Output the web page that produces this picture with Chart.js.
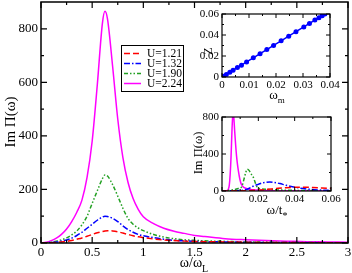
<!DOCTYPE html>
<html><head><meta charset="utf-8">
<script src="https://cdn.jsdelivr.net/npm/chart.js@4"></script>
<style>
html,body{margin:0;padding:0;background:#fff;}
#wrap{position:relative;width:352px;height:273px;overflow:hidden;background:#fff;}
canvas{position:absolute;}
</style></head><body>
<div id="wrap">
<canvas id="main" style="left:0;top:0;width:352px;height:273px" width="352" height="273"></canvas>
<canvas id="ins1" style="left:190px;top:0;width:160px;height:106px" width="160" height="106"></canvas>
<canvas id="ins2" style="left:185px;top:108px;width:165px;height:112px" width="165" height="112"></canvas>
</div>
<script>
// ---------- DATA ----------
const omega = [0,0.05,0.1,0.15,0.2,0.25,0.3,0.35,0.4,0.45,0.5,0.55,0.6,0.625,0.65,0.7,0.75,0.8,0.85,0.9,0.95,1.0,1.1,1.2,1.3,1.4,1.5,1.6,1.8,2.0,2.2,2.4,2.6,2.8,3.0];
const imU121 = [0,0.5,1,2,4,6,9,14,19,25,32,38,43,45,46,45,42,37,32,27,23,20,15,11,9,7,6,5,4,3,2,2,1,1,1];
const imU132 = [0,1,2,4,7,11,18,28,40,55,70,85,97,100,99,92,80,64,50,40,32,27,20,14,10,8,6,5,4,3,2,2,1,1,1];
const imU190 = [0,1,3,7,12,19,30,45,68,100,148,195,240,254,250,218,175,130,92,70,56,46,32,22,16,12,10,8,6,4,3,2,2,1,1];
const imU224 = [0,3,9,18,32,52,80,115,160,245,380,590,820,865,836,659,463,320,227,166,126,98,72,55,44,36,28,24,16,12,9,7,5,4,3];
const seriesLabels = ["U=1.21","U=1.32","U=1.90","U=2.24"];

// inset: Z vs omega_m
const omegaM = [0.0004,0.0016,0.0029,0.0041,0.0057,0.0072,0.0091,0.0116,0.0141,0.0166,0.0191,0.0219,0.0247,0.0274,0.0303,0.0324,0.0344,0.0359,0.0371,0.0381];
const zVals  = [0.0006,0.0025,0.0046,0.0065,0.009,0.0113,0.0143,0.0183,0.0222,0.0261,0.0301,0.0345,0.0389,0.0432,0.0477,0.051,0.0542,0.0565,0.0584,0.06];

// inset: Im Pi vs omega/t*
const insRedX = [0,0.01,0.015,0.02,0.025,0.03,0.035,0.04,0.045,0.05,0.055,0.06];
const insRedY = [0,2,5,10,18,27,35,40,41,38,33,28];
const insBlueX = [0,0.005,0.01,0.0116,0.0145,0.0171,0.02,0.0227,0.0264,0.029,0.0319,0.0345,0.0374,0.0448,0.054,0.06];
const insBlueY = [0,2,6,8,25,51,72,90,97,92,80,66,51,26,10,6];
const insGreenX = [0,0.003,0.0055,0.008,0.0095,0.0108,0.012,0.013,0.0139,0.015,0.016,0.0172,0.0185,0.0194,0.021,0.025,0.03,0.04,0.05,0.06];
const insGreenY = [0,5,12,22,32,45,120,195,235,220,185,150,80,40,25,18,12,7,4,3];
const insMagX = [0,0.002,0.003,0.0035,0.004,0.0045,0.005,0.0055,0.006,0.0062,0.0065,0.007,0.0075,0.008,0.0085,0.009,0.0098,0.0107,0.012,0.015,0.02,0.025,0.035,0.06];
const insMagY = [0,3,8,20,60,180,380,660,850,865,800,640,500,380,290,220,130,70,40,20,10,6,3,1];

// ticks
const mainXTicks = [0,0.5,1,1.5,2,2.5,3];
const mainXMinor = [0.25,0.75,1.25,1.75,2.25,2.75];
const mainYTicks = [0,200,400,600,800];
const mainYMinor = [100,300,500,700];
const in1XTicks = [0,0.01,0.02,0.03,0.04];
const in1XMinor = [0.005,0.015,0.025,0.035];
const in1YTicks = [0,0.02,0.04,0.06];
const in1YMinor = [0.01,0.03,0.05];
const in2XTicks = [0,0.02,0.04,0.06];
const in2XMinor = [0.01,0.03,0.05];
const in2YTicks = [0,400,800];
const in2YMinor = [200,600];

// ---------- STYLE ----------
const FF = "'Liberation Serif','Times New Roman',serif";
Chart.defaults.font.family = FF;
Chart.defaults.color = '#000';
Chart.defaults.animation = false;
Chart.defaults.responsive = false;
Chart.defaults.devicePixelRatio = 1;
Chart.defaults.plugins.legend.display = false;
Chart.defaults.plugins.tooltip.enabled = false;

const colors = ['#ff0000','#0000ff','#22a022','#ff00ff'];
const dashes = [[6,3],[6,2,1.5,2],[4,2,1.5,2,1.5,2],[]];

function pts(xs, ys){ return xs.map((x,i)=>({x:x,y:ys[i]})); }

function mkScale(axis, min, max, tickVals, size, fontSize){
  return {
    type:'linear', min:min, max:max,
    grid:{display:false, drawTicks:false}, border:{display:false},
    ticks:{font:{size:fontSize}, color:'#000', padding: axis==='x'?2:3, maxRotation:0, autoSkip:false,
           callback:(v)=>String(v)},
    afterBuildTicks(s){ s.ticks = tickVals.map(v=>({value:v})); },
    afterFit(s){ if(axis==='x'){ s.height=size; } else { s.width=size; } s.paddingLeft=0; s.paddingRight=0; s.paddingTop=0; s.paddingBottom=0; }
  };
}

function subText(ctx, cx, cy, main, sub, size, subSize, rot){
  ctx.save(); ctx.translate(cx,cy); if(rot) ctx.rotate(-Math.PI/2);
  ctx.font = size+'px '+FF; const w1 = ctx.measureText(main).width;
  ctx.font = subSize+'px '+FF; const w2 = sub ? ctx.measureText(sub).width : 0;
  const x0 = -(w1+w2)/2;
  ctx.textBaseline='alphabetic'; ctx.textAlign='left'; ctx.fillStyle='#000';
  ctx.font = size+'px '+FF; ctx.fillText(main, x0, 0);
  if(sub){ ctx.font = subSize+'px '+FF; ctx.fillText(sub, x0+w1, subSize*0.45); }
  ctx.restore();
}

function frame(o){
  return {
    id:'frame',
    beforeDatasetsDraw(c){
      const a=c.chartArea, ctx=c.ctx;
      ctx.save(); ctx.fillStyle='#fff'; ctx.fillRect(a.left,a.top,a.right-a.left,a.bottom-a.top); ctx.restore();
    },
    afterDatasetsDraw(c){
      const ctx=c.ctx, a=c.chartArea, xs=c.scales.x, ys=c.scales.y;
      ctx.save(); ctx.strokeStyle='#000'; ctx.lineWidth=o.lw; ctx.setLineDash([]);
      ctx.strokeRect(a.left,a.top,a.right-a.left,a.bottom-a.top);
      ctx.lineWidth=o.tw;
      ctx.beginPath();
      const tx=(vals,len)=>vals.forEach(v=>{const p=xs.getPixelForValue(v); ctx.moveTo(p,a.bottom); ctx.lineTo(p,a.bottom-len); ctx.moveTo(p,a.top); ctx.lineTo(p,a.top+len);});
      const ty=(vals,len)=>vals.forEach(v=>{const p=ys.getPixelForValue(v); ctx.moveTo(a.left,p); ctx.lineTo(a.left+len,p); ctx.moveTo(a.right,p); ctx.lineTo(a.right-len,p);});
      tx(o.xMaj,o.maj); tx(o.xMin,o.min); ty(o.yMaj,o.maj); ty(o.yMin,o.min);
      ctx.stroke();
      ctx.restore();
      if(o.after){ ctx.save(); o.after(c, ctx); ctx.restore(); }
    }
  };
}

function lineDs(label, data, i, w){
  return {label:label, data:data, borderColor:colors[i], borderDash:dashes[i], borderWidth:w,
          pointRadius:0, fill:false, cubicInterpolationMode:'monotone'};
}

// ---------- MAIN ----------
new Chart(document.getElementById('main'), {
  type:'line',
  data:{datasets:[
    lineDs(seriesLabels[0], pts(omega, imU121), 0, 1.5),
    lineDs(seriesLabels[1], pts(omega, imU132), 1, 1.5),
    lineDs(seriesLabels[2], pts(omega, imU190), 2, 1.5),
    lineDs(seriesLabels[3], pts(omega, imU224), 3, 1.5)
  ]},
  options:{
    layout:{padding:{left:0,right:4,top:2,bottom:0}},
    scales:{
      x: mkScale('x',0,3,mainXTicks,30,13),
      y: mkScale('y',0,900,mainYTicks,41,13)
    }
  },
  plugins:[frame({lw:1.5,tw:1.2,maj:6,min:3,xMaj:mainXTicks,xMin:mainXMinor,yMaj:mainYTicks,yMin:mainYMinor,
    after(c, ctx){
      // legend
      ctx.strokeStyle='#000'; ctx.lineWidth=1; ctx.setLineDash([]);
      ctx.strokeRect(121.5,45.5,62,46);
      c.data.datasets.forEach((d,i)=>{
        const yy=53.5+i*10;
        ctx.strokeStyle=d.borderColor; ctx.lineWidth=1.5; ctx.setLineDash(d.borderDash);
        ctx.beginPath(); ctx.moveTo(124,yy); ctx.lineTo(141,yy); ctx.stroke();
        ctx.setLineDash([]);
        ctx.fillStyle='#000'; ctx.font='11.5px '+FF; ctx.textBaseline='middle'; ctx.textAlign='left';
        ctx.fillText(d.label,147,yy+0.5);
      });
      subText(ctx, 15, 122, 'Im \u03A0(\u03C9)', null, 15, 10, true);
      subText(ctx, 194, 267, '\u03C9/\u03C9', 'L', 14, 10, false);
    }
  })]
});

// ---------- INSET 1 ----------
new Chart(document.getElementById('ins1'), {
  type:'line',
  data:{datasets:[{label:'Z', data:pts(omegaM, zVals), borderColor:'#0000ff', backgroundColor:'#0000ff',
    borderWidth:1.5, pointRadius:2.5, pointBorderWidth:0, fill:false}]},
  options:{
    layout:{padding:{left:0,right:20,top:14,bottom:0}},
    scales:{
      x: mkScale('x',0,0.04,in1XTicks,29,11),
      y: mkScale('y',0,0.06,in1YTicks,32,11)
    }
  },
  plugins:[frame({lw:1.2,tw:1,maj:4,min:2,xMaj:in1XTicks,xMin:in1XMinor,yMaj:in1YTicks,yMin:in1YMinor,
    after(c, ctx){
      subText(ctx, 22, 51, 'Z', null, 12, 9, true);
      subText(ctx, 87, 99, '\u03C9', 'm', 13, 9, false);
    }
  })]
});

// ---------- INSET 2 ----------
new Chart(document.getElementById('ins2'), {
  type:'line',
  data:{datasets:[
    lineDs(seriesLabels[0], pts(insRedX, insRedY), 0, 1.5),
    lineDs(seriesLabels[1], pts(insBlueX, insBlueY), 1, 1.5),
    lineDs(seriesLabels[2], pts(insGreenX, insGreenY), 2, 1.5),
    lineDs(seriesLabels[3], pts(insMagX, insMagY), 3, 1.5)
  ]},
  options:{
    layout:{padding:{left:0,right:19,top:9,bottom:0}},
    scales:{
      x: mkScale('x',0,0.06,in2XTicks,29,11),
      y: mkScale('y',0,800,in2YTicks,37,11)
    }
  },
  plugins:[frame({lw:1.2,tw:1,maj:4,min:2,xMaj:in2XTicks,xMin:in2XMinor,yMaj:in2YTicks,yMin:in2YMinor,
    after(c, ctx){
      subText(ctx, 17, 45, 'Im \u03A0(\u03C9)', null, 12.5, 9, true);
      subText(ctx, 92, 106, '\u03C9/t', '*', 13, 10, false);
    }
  })]
});
</script>
</body></html>
